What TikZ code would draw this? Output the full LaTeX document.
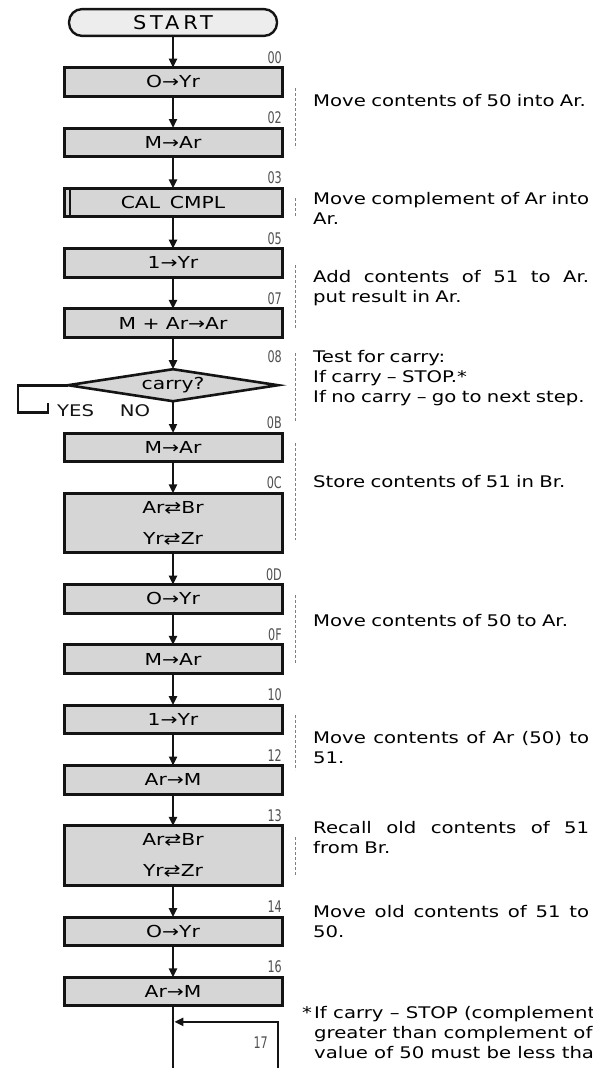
\documentclass[tikz,border=0pt]{standalone}
\usepackage{fontspec}
\setmainfont{DejaVu Sans}
\newfontfamily\cmtfont[FakeStretch=1.23]{DejaVu Sans}
\newfontfamily\adrfont[FakeStretch=0.7]{DejaVu Sans}
\newfontfamily\startfont[FakeStretch=1.1,LetterSpace=20]{DejaVu Sans}
\usetikzlibrary{arrows.meta,positioning,shapes.geometric}
\definecolor{halftone}{gray}{0.84}
\definecolor{ink}{gray}{0.08}
\newcommand\spreadline[1]{{\spaceskip=0.33em plus 1fil\relax\makebox[276pt][s]{#1}}}
\tikzset{
  blk/.style={draw=ink,line width=3pt,fill=halftone,minimum width=218pt,minimum height=28.5pt,
              inner sep=0pt,outer sep=0pt,align=center,font=\cmtfont\fontsize{16.5}{31}\selectfont},
  dblk/.style={blk,minimum height=59.5pt},
  term/.style={draw=ink,line width=2.4pt,fill=halftone!45,rounded corners=13pt,minimum width=208pt,
               minimum height=26.8pt,inner sep=0pt,outer sep=0pt,font=\startfont\fontsize{19}{22}\selectfont},
  test/.style={diamond,aspect=6.5,draw=ink,line width=2.6pt,fill=halftone,minimum width=210pt,
               minimum height=32pt,inner sep=0pt,outer sep=0pt,font=\cmtfont\fontsize{16.5}{20}\selectfont},
  arr/.style={-{Triangle[length=9pt,width=8pt]},line width=2.8pt,ink},
  wire/.style={line width=2.8pt,ink},
  adr/.style={font=\adrfont\fontsize{16}{18}\selectfont,inner sep=0pt,text=ink!75},
  yesno/.style={font=\cmtfont\fontsize{16}{18}\selectfont,inner sep=0pt,text=ink},
  cmt/.style={font=\cmtfont\fontsize{16}{20}\selectfont,text width=290pt,align=left,inner sep=0pt,anchor=north west},
  brk/.style={dash pattern=on 3pt off 2pt,line width=0.7pt,gray},
}

\begin{document}
\begin{tikzpicture}[x=1pt,y=-1pt,node distance=31.8pt]
  \useasboundingbox (0,0) rectangle (592,1068);
  \clip (0,0) rectangle (592,1068);

  % flow chart
  \node[term] (start) at (173,22.5) {START};
  \node[blk,below=of start] (b00) {O→Yr};
  \node[blk,below=of b00] (b02) {M→Ar};
  \node[blk,below=of b02] (b03) {CAL\hspace{0.6em}CMPL};
  \node[blk,below=of b03] (b05) {1→Yr};
  \node[blk,below=of b05] (b07) {M + Ar→Ar};
  \node[test,below=of b07] (dia) {carry?};
  \node[blk,below=of dia] (b0B) {M→Ar};
  \node[dblk,below=of b0B] (b0C) {Ar⇄Br\\Yr⇄Zr};
  \node[blk,below=of b0C] (b0D) {O→Yr};
  \node[blk,below=of b0D] (b0F) {M→Ar};
  \node[blk,below=of b0F] (b10) {1→Yr};
  \node[blk,below=of b10] (b12) {Ar→M};
  \node[dblk,below=of b12] (b13) {Ar⇄Br\\Yr⇄Zr};
  \node[blk,below=of b13] (b14) {O→Yr};
  \node[blk,below=of b14] (b16) {Ar→M};

  \draw[line width=2pt,ink] ([xshift=6pt]b03.north west) -- ([xshift=6pt]b03.south west);

  \foreach \a/\b in {start/b00,b00/b02,b02/b03,b03/b05,b05/b07,b07/dia,dia/b0B,b0B/b0C,
                     b0C/b0D,b0D/b0F,b0F/b10,b10/b12,b12/b13,b13/b14,b14/b16}
    \draw[arr] (\a) -- (\b);

  % addresses
  \foreach \b/\t in {b00/00,b02/02,b03/03,b05/05,b07/07,b0B/0B,b0C/0C,b0D/0D,
                     b0F/0F,b10/10,b12/12,b13/13,b14/14,b16/16}
    \node[adr,anchor=base east] at ([yshift=4.5pt]\b.north east) {\t};
  \node[adr,anchor=base east] at ([yshift=7pt]dia.north -| b07.east) {08};

  % yes branch
  \draw[wire] (dia.west) -- ++(-50,0) -- ++(0,27) -- ++(30,0) -- ++(0,-9);
  \node[yesno,anchor=west] (yes) at (57,411) {YES};
  \node[yesno] (no) at (135,411) {NO};

  % loop back
  \coordinate (rtn) at (278,1068);
  \coordinate (jn) at ([yshift=-16pt]b16.south);
  \draw[wire] (b16) -- (b16.south |- rtn);
  \draw[arr,shorten >=1.4pt] (rtn) |- (jn);
  \node[adr,anchor=east] at (268,1043) {17};

  % comment brackets
  \foreach \ya/\yb in {88/148,198/217,265/328,353/422,443/540,595/663,715/770,837/875}
    \draw[brk] (295,\ya) -- (295,\yb);

  % comments
  \node[cmt] (c1) at (313,94) {Move contents of 50 into Ar.};
  \node[cmt] (c2) at (313,192) {\spreadline{Move complement of Ar into}\\Ar.};
  \node[cmt] (c3) at (313,270) {\spreadline{Add contents of 51 to Ar.}\\put result in Ar.};
  \node[cmt] (c4) at (313,350) {Test for carry:\\If carry – STOP.*\\If no carry – go to next step.};
  \node[cmt] (c5) at (313,475) {Store contents of 51 in Br.};
  \node[cmt] (c6) at (313,614) {Move contents of 50 to Ar.};
  \node[cmt] (c7) at (313,731) {\spreadline{Move contents of Ar (50) to}\\51.};
  \node[cmt] (c8) at (313,821) {\spreadline{Recall old contents of 51}\\from Br.};
  \node[cmt] (c9) at (313,905) {\spreadline{Move old contents of 51 to}\\50.};
  \node[font=\cmtfont\fontsize{16}{20}\selectfont,align=left,inner sep=0pt,anchor=north west] (foot)
    at (302,1006) {\makebox[12pt][l]{*}If carry – STOP (complement\\
                   \hspace*{12pt}greater than complement of\\
                   \hspace*{12pt}value of 50 must be less than};
\end{tikzpicture}
\end{document}
